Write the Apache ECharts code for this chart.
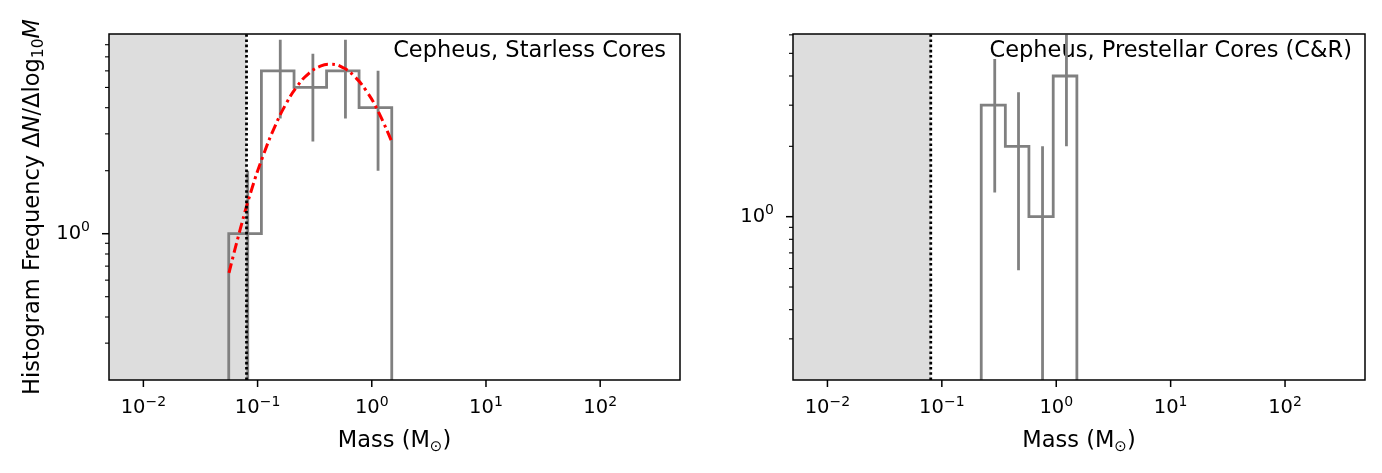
<!DOCTYPE html>
<html><head><meta charset="utf-8">
<script src="https://cdn.jsdelivr.net/npm/echarts@6/dist/echarts.min.js"></script>
<style>html,body{margin:0;padding:0;background:#fff}#c{width:1382px;height:473px}</style>
</head><body><div id="c"></div>
<script>
// ---------- data ----------
const X_MIN = 0.005, X_MAX = 500;
const Y_MIN = 0.2;
const Y_MAX_LEFT = 9.0;
const Y_MAX_RIGHT = 6.05;
const BD_LIMIT = 0.08;

const xMajorTicks = [0.01, 0.1, 1, 10, 100];
const yMajorTicks = [1];
const yMinorTicksLeft = [0.3, 0.4, 0.5, 0.6, 0.7, 0.8, 0.9, 2, 3, 4, 5, 6, 7, 8];
const yMinorTicksRight = [0.3, 0.4, 0.5, 0.6, 0.7, 0.8, 0.9, 2, 3, 4, 5, 6];

// Left panel: starless cores
const leftEdges   = [0.0559, 0.108, 0.2086, 0.402, 0.774, 1.496];
const leftValues  = [1, 6, 5, 6, 4];
const leftCenters = [0.082, 0.158, 0.305, 0.588, 1.135];
const leftErrLow  = [0, 3.55, 2.76, 3.55, 2.0];
const leftErrHigh = [2.0, 8.45, 7.24, 8.45, 6.0];

// Left panel: fitted curve
const fitMass   = [0.0562, 0.0708, 0.0891, 0.1122, 0.1413, 0.1778, 0.2239, 0.2818, 0.3548, 0.4315, 0.5623, 0.7079, 0.8913, 1.122, 1.496];
const fitValues = [0.65, 1.06, 1.64, 2.37, 3.24, 4.18, 5.09, 5.84, 6.32, 6.45, 6.21, 5.63, 4.83, 3.90, 2.75];

// Right panel: prestellar cores
const rightEdges   = [0.221, 0.359, 0.577, 0.941, 1.515];
const rightValues  = [3, 2, 1, 4];
const rightCenters = [0.29, 0.468, 0.759, 1.228];
const rightErrLow  = [1.27, 0.59, 0, 2.0];
const rightErrHigh = [4.73, 3.41, 2.0, 6.0];

const leftTitle  = 'Cepheus, Starless Cores';
const rightTitle = 'Cepheus, Prestellar Cores (C&R)';
const xName = '{a|Mass (M}{s|⊙}{a|)}';
const yName = '{a|Histogram Frequency Δ}{i|N}{a|/Δlog}{s|10}{i|M}';

// ---------- layout ----------
const FONT = 'DejaVu Sans';
const GRIDS = [
  {left: 109, top: 34, width: 571, height: 346},
  {left: 793, top: 34, width: 572, height: 346}
];
const GREY = '#808080';

function isPow10(v) { const l = Math.log10(v); return Math.abs(l - Math.round(l)) < 1e-6; }
function powLabel(v) {
  if (!isPow10(v)) return '';
  const e = Math.round(Math.log10(v));
  return '{b|10}{s|' + (e < 0 ? '\u2212' + (-e) : e) + '}';
}
const labelRich = {
  b: {fontFamily: FONT, fontSize: 19.5, lineHeight: 26, color: '#000'},
  s: {fontFamily: FONT, fontSize: 14, lineHeight: 18, verticalAlign: 'top', color: '#000'}
};

function stepData(edges, vals, ymin) {
  const pts = [[edges[0], ymin]];
  for (let i = 0; i < vals.length; i++) {
    pts.push([edges[i], vals[i]]);
    pts.push([edges[i + 1], vals[i]]);
  }
  pts.push([edges[edges.length - 1], ymin]);
  return pts;
}

function tickSeries(idx, values, axis, len, width) {
  return {
    type: 'custom', xAxisIndex: idx, yAxisIndex: idx, clip: false, silent: true, z: 10,
    data: values.map(v => axis === 'x' ? [v, Y_MIN] : [X_MIN, v]),
    renderItem(params, api) {
      const cs = params.coordSys;
      const p = api.coord([api.value(0), api.value(1)]);
      if (axis === 'x') {
        const y = cs.y + cs.height;
        return {type: 'line', shape: {x1: p[0], y1: y, x2: p[0], y2: y + len}, style: {stroke: '#000', lineWidth: width}};
      }
      return {type: 'line', shape: {x1: cs.x, y1: p[1], x2: cs.x - len, y2: p[1]}, style: {stroke: '#000', lineWidth: width}};
    }
  };
}

function panelSeries(idx, edges, vals, centers, lo, hi, ymax) {
  const s = [];
  s.push({
    type: 'line', xAxisIndex: idx, yAxisIndex: idx, data: [], z: 1, silent: true,
    markArea: {silent: true, itemStyle: {color: '#dddddd', opacity: 1},
      data: [[{xAxis: X_MIN}, {xAxis: BD_LIMIT}]]}
  });
  s.push({
    type: 'line', xAxisIndex: idx, yAxisIndex: idx, data: stepData(edges, vals, Y_MIN),
    showSymbol: false, symbol: 'none', z: 2, silent: true, clip: true,
    lineStyle: {color: GREY, width: 2.8, cap: 'butt', join: 'miter'}
  });
  centers.forEach((c, i) => {
    s.push({
      type: 'line', xAxisIndex: idx, yAxisIndex: idx,
      data: [[c, Math.max(lo[i], Y_MIN)], [c, hi[i]]],
      showSymbol: false, symbol: 'none', z: 2, silent: true, clip: true,
      lineStyle: {color: GREY, width: 2.8, cap: 'butt'}
    });
  });
  s.push({
    type: 'line', xAxisIndex: idx, yAxisIndex: idx,
    data: [[BD_LIMIT, Y_MIN], [BD_LIMIT, ymax]],
    showSymbol: false, symbol: 'none', z: 4, silent: true,
    lineStyle: {color: '#000', width: 2.8, type: [2.6, 2.6], cap: 'butt'}
  });
  return s;
}

function xAxisOpt(idx) {
  return {
    type: 'log', logBase: 10, gridIndex: idx, min: X_MIN, max: X_MAX,
    axisLine: {show: false}, axisTick: {show: false}, splitLine: {show: false}, minorTick: {show: false},
    axisLabel: {formatter: powLabel, rich: labelRich, margin: 15, showMinLabel: true, showMaxLabel: true},
    name: xName, nameLocation: 'middle', nameGap: 47,
    nameTextStyle: {rich: {
      a: {fontFamily: FONT, fontSize: 22.5, lineHeight: 28, color: '#000'},
      s: {fontFamily: FONT, fontSize: 15, lineHeight: 15, verticalAlign: 'bottom', color: '#000'}
    }}
  };
}
function yAxisOpt(idx, ymax, withName) {
  const o = {
    type: 'log', logBase: 10, gridIndex: idx, min: Y_MIN, max: ymax,
    axisLine: {show: false}, axisTick: {show: false}, splitLine: {show: false}, minorTick: {show: false},
    axisLabel: {formatter: powLabel, rich: labelRich, margin: 19}
  };
  if (withName) {
    o.name = yName; o.nameLocation = 'middle'; o.nameGap = 62;
    o.nameTextStyle = {rich: {
      a: {fontFamily: FONT, fontSize: 22.5, lineHeight: 28, color: '#000'},
      i: {fontFamily: FONT, fontSize: 22.5, lineHeight: 28, fontStyle: 'italic', color: '#000'},
      s: {fontFamily: FONT, fontSize: 15.5, lineHeight: 15, verticalAlign: 'bottom', color: '#000'}
    }};
  }
  return o;
}

const series = [].concat(
  panelSeries(0, leftEdges, leftValues, leftCenters, leftErrLow, leftErrHigh, Y_MAX_LEFT),
  [{
    type: 'line', xAxisIndex: 0, yAxisIndex: 0,
    data: fitMass.map((m, i) => [m, fitValues[i]]),
    showSymbol: false, symbol: 'none', smooth: true, z: 3, silent: true,
    lineStyle: {color: '#ff0000', width: 3, type: [10, 4, 2.8, 4], cap: 'butt'}
  }],
  panelSeries(1, rightEdges, rightValues, rightCenters, rightErrLow, rightErrHigh, Y_MAX_RIGHT),
  [
    tickSeries(0, xMajorTicks, 'x', 7, 1.5), tickSeries(1, xMajorTicks, 'x', 7, 1.5),
    tickSeries(0, yMajorTicks, 'y', 7, 1.5), tickSeries(1, yMajorTicks, 'y', 7, 1.5),
    tickSeries(0, yMinorTicksLeft, 'y', 4, 1.1), tickSeries(1, yMinorTicksRight, 'y', 4, 1.1)
  ]
);

const chart = echarts.init(document.getElementById('c'), null, {renderer: 'canvas'});
chart.setOption({
  animation: false,
  backgroundColor: '#fff',
  textStyle: {fontFamily: FONT},
  grid: GRIDS.map(g => Object.assign({show: true, borderColor: '#000', borderWidth: 1.5, backgroundColor: 'transparent', z: 5, containLabel: false}, g)),
  xAxis: [xAxisOpt(0), xAxisOpt(1)],
  yAxis: [yAxisOpt(0, Y_MAX_LEFT, true), yAxisOpt(1, Y_MAX_RIGHT, false)],
  series: series,
  graphic: [
    {type: 'text', z: 20, x: GRIDS[0].left + GRIDS[0].width - 14, y: 51,
      style: {text: leftTitle, font: '22.5px "DejaVu Sans"', fill: '#000', align: 'right', verticalAlign: 'middle'}},
    {type: 'text', z: 1, x: GRIDS[1].left + GRIDS[1].width - 13, y: 51,
      style: {text: rightTitle, font: '22.5px "DejaVu Sans"', fill: '#000', align: 'right', verticalAlign: 'middle'}}
  ]
});
</script></body></html>
